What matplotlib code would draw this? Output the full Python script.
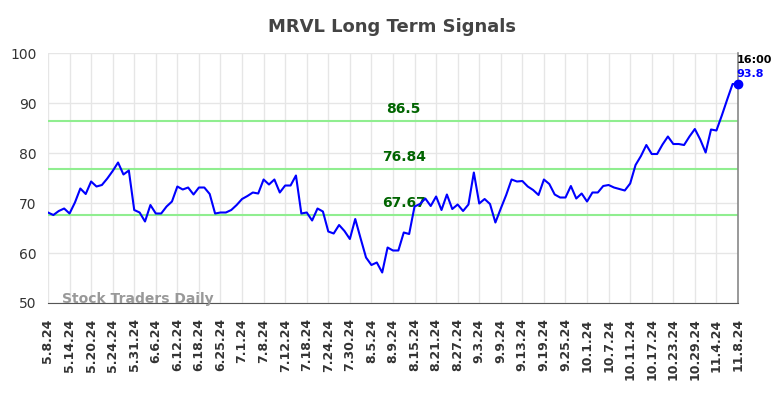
import matplotlib
matplotlib.use("Agg")
import matplotlib.pyplot as plt
import numpy as np

# closing values, one per trading day 5.8.24 .. 11.8.24
prices = [68.1, 67.6, 68.4, 68.9, 67.9, 70.1, 72.9, 71.8, 74.3, 73.3,
          73.6, 74.9, 76.4, 78.1, 75.7, 76.5, 68.6, 68.1, 66.3, 69.6,
          67.9, 67.9, 69.3, 70.3, 73.3, 72.7, 73.1, 71.7, 73.1, 73.1,
          71.8, 67.9, 68.1, 68.1, 68.6, 69.6, 70.8, 71.4, 72.1, 71.9,
          74.7, 73.7, 74.7, 72.1, 73.5, 73.5, 75.5, 67.9, 68.1, 66.5,
          68.9, 68.3, 64.3, 63.9, 65.6, 64.4, 62.8, 66.8, 62.9, 59.1,
          57.6, 58.1, 56.1, 61.1, 60.5, 60.5, 64.1, 63.8, 69.3, 69.8,
          70.9, 69.4, 71.3, 68.6, 71.7, 68.8, 69.7, 68.4, 69.7, 76.1,
          69.9, 70.8, 69.8, 66.1, 68.9, 71.6, 74.7, 74.3, 74.4, 73.3,
          72.6, 71.6, 74.7, 73.8, 71.7, 71.1, 71.1, 73.4, 70.9, 71.9,
          70.3, 72.1, 72.1, 73.4, 73.6, 73.1, 72.8, 72.5, 73.9, 77.6,
          79.4, 81.6, 79.8, 79.8, 81.7, 83.3, 81.8, 81.8, 81.6, 83.3,
          84.8, 82.7, 80.1, 84.7, 84.5, 87.5, 90.7, 93.8, 93.8]

tick_labels = ["5.8.24", "5.14.24", "5.20.24", "5.24.24", "5.31.24", "6.6.24",
               "6.12.24", "6.18.24", "6.25.24", "7.1.24", "7.8.24", "7.12.24",
               "7.18.24", "7.24.24", "7.30.24", "8.5.24", "8.9.24", "8.15.24",
               "8.21.24", "8.27.24", "9.3.24", "9.9.24", "9.13.24", "9.19.24",
               "9.25.24", "10.1.24", "10.7.24", "10.11.24", "10.17.24",
               "10.23.24", "10.29.24", "11.4.24", "11.8.24"]

levels = [86.5, 76.84, 67.67]
level_labels = ["86.5", "76.84", "67.67"]

x = np.arange(len(prices))

fig = plt.figure(figsize=(7.84, 3.98), dpi=100)
ax = fig.add_axes([0.0612, 0.2387, 0.8801, 0.6281])

ax.set_xlim(0, len(prices) - 1)
ax.set_ylim(50, 100)
ax.grid(True, color="#e6e6e6", linewidth=1)
ax.set_axisbelow(True)

for lv, lab in zip(levels, level_labels):
    ax.axhline(lv, color="#90ee90", linewidth=1.5, zorder=2)
    ax.text(66, lv + 1.0, lab, color="#006400", fontsize=10, fontweight="bold",
            ha="center", va="bottom")

ax.plot(x, prices, color="#0000ff", linewidth=1.5, zorder=3)
ax.plot(x[-1], prices[-1], "o", color="#0000ff", markersize=6, zorder=5, clip_on=False)

ax.annotate("16:00", (x[-1], prices[-1]), xytext=(-1, 17), textcoords="offset points",
            fontsize=8, fontweight="bold", color="black", ha="left", va="center")
ax.annotate(f"{prices[-1]:.1f}", (x[-1], prices[-1]), xytext=(-1, 7), textcoords="offset points",
            fontsize=8, fontweight="bold", color="#0000ff", ha="left", va="center")

ax.text(0.02, -0.012, "Stock Traders Daily", transform=ax.transAxes, fontsize=10,
        fontweight="bold", color="#999999", ha="left", va="bottom")

ax.set_xticks(x[::4])
ax.set_xticklabels(tick_labels, rotation=90, fontsize=9, fontweight="bold", color="#333333")
ax.set_yticks(range(50, 101, 10))
ax.tick_params(axis="y", labelsize=10, colors="#333333", length=0, pad=8)
ax.tick_params(axis="x", length=0, pad=11)

for s in ["top", "left"]:
    ax.spines[s].set_visible(False)
ax.spines["bottom"].set_color("#555555")
ax.spines["right"].set_color("#888888")
ax.spines["right"].set_linewidth(1.2)

fig.suptitle("MRVL Long Term Signals", x=0.5, y=0.955, fontsize=13,
             fontweight="bold", color="#444444")

fig.savefig("out.png", dpi=100)
